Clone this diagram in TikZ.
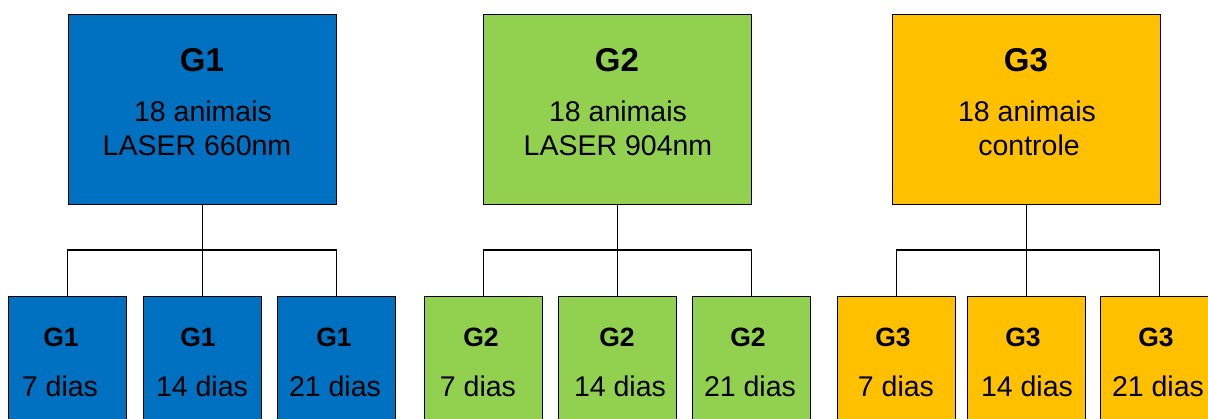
\documentclass[tikz,border=0pt]{standalone}
\usepackage{fontspec}
\setmainfont{Liberation Sans}
\definecolor{cblue}{HTML}{0070C0}
\definecolor{cgreen}{HTML}{92D050}
\definecolor{cyellow}{HTML}{FFC000}
\begin{document}
\begin{tikzpicture}[x=1pt,y=-1pt,
  bigbox/.style={draw=black,line width=1.4pt,minimum width=268pt,minimum height=190pt,inner sep=0pt,anchor=north west},
  smallbox/.style={draw=black,line width=1.4pt,minimum width=118pt,minimum height=140pt,inner sep=0pt,anchor=north west},
  head/.style={font=\fontsize{33}{33}\bfseries\selectfont,anchor=base,inner sep=0pt},
  subhead/.style={font=\fontsize{26.5}{26.5}\bfseries\selectfont,anchor=base,inner sep=0pt},
  txt/.style={font=\fontsize{28.5}{28.5}\selectfont,anchor=base,inner sep=0pt},
  conn/.style={draw=black,line width=1.4pt}]
\useasboundingbox (0,0) rectangle (1208,419);
\clip (0,0) rectangle (1208,419);
% top boxes
\node[bigbox,fill=cblue] (g1) at (68,14) {};
\node[bigbox,fill=cgreen] (g2) at (483,14) {};
\node[bigbox,fill=cyellow] (g3) at (892,14) {};
% bottom boxes
\node[smallbox,fill=cblue] (g1a) at (8,296) {};
\node[smallbox,fill=cblue] (g1b) at (143,296) {};
\node[smallbox,fill=cblue] (g1c) at (277,296) {};
\node[smallbox,fill=cgreen] (g2a) at (424,296) {};
\node[smallbox,fill=cgreen] (g2b) at (558,296) {};
\node[smallbox,fill=cgreen] (g2c) at (692,296) {};
\node[smallbox,fill=cyellow] (g3a) at (837,296) {};
\node[smallbox,fill=cyellow] (g3b) at (967,296) {};
\node[smallbox,fill=cyellow] (g3c) at (1100,296) {};
% top texts
\node[head] (t1) at (202,72) {G1};
\node[txt] (t1a) at (203,122) {18 animais};
\node[txt] (t1b) at (197,156) {LASER 660nm};
\node[head] (t2) at (617,72) {G2};
\node[txt] (t2a) at (618,122) {18 animais};
\node[txt] (t2b) at (618,156) {LASER 904nm};
\node[head] (t3) at (1026,72) {G3};
\node[txt] (t3a) at (1027,122) {18 animais};
\node[txt] (t3b) at (1029,156) {controle};
% bottom texts
\node[subhead] (s1a) at (61,347) {G1};
\node[txt] (d1a) at (60,397) {7 dias};
\node[subhead] (s1b) at (198,347) {G1};
\node[txt] (d1b) at (202,397) {14 dias};
\node[subhead] (s1c) at (334,347) {G1};
\node[txt] (d1c) at (335,397) {21 dias};
\node[subhead] (s2a) at (481,347) {G2};
\node[txt] (d2a) at (478,397) {7 dias};
\node[subhead] (s2b) at (617,347) {G2};
\node[txt] (d2b) at (620,397) {14 dias};
\node[subhead] (s2c) at (748,347) {G2};
\node[txt] (d2c) at (750,397) {21 dias};
\node[subhead] (s3a) at (893,347) {G3};
\node[txt] (d3a) at (896,397) {7 dias};
\node[subhead] (s3b) at (1023,347) {G3};
\node[txt] (d3b) at (1027,397) {14 dias};
\node[subhead] (s3c) at (1156,347) {G3};
\node[txt] (d3c) at (1158,397) {21 dias};
% connectors
\coordinate (j1) at (g1.south |- 0,250);
\coordinate (j2) at (g2.south |- 0,250);
\coordinate (j3) at (g3.south |- 0,250);
\draw[conn] (g1.south) -- (j1);
\draw[conn] (g1a.north) |- (j1) -| (g1c.north);
\draw[conn] (g1b.north |- j1) -- (g1b.north);
\draw[conn] (g2.south) -- (j2);
\draw[conn] (g2a.north) |- (j2) -| (g2c.north);
\draw[conn] (g2b.north |- j2) -- (g2b.north);
\draw[conn] (g3.south) -- (j3);
\draw[conn] (g3a.north) |- (j3) -| (g3c.north);
\draw[conn] (g3b.north |- j3) -- (g3b.north);
\end{tikzpicture}
\end{document}
